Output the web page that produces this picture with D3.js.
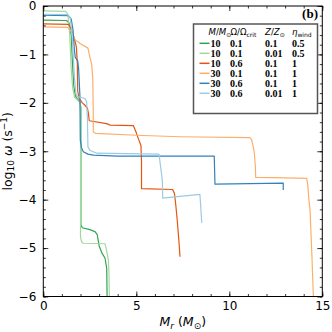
<!DOCTYPE html>
<html>
<head>
<meta charset="utf-8">
<script src="https://cdn.jsdelivr.net/npm/d3@7"></script>
<style>
  body { margin: 0; background: #fff; }
  svg { display: block; }
  .tick text { font-family: "DejaVu Sans", sans-serif; font-size: 12px; fill: #000; }
  .leg { font-family: "Liberation Serif", serif; font-weight: bold; font-size: 10px; }
  .hdr { font-family: "DejaVu Sans", sans-serif; font-size: 8.6px; }
</style>
</head>
<body>
<div class="chart"></div>
<script>
// Legend table
const masses = ["10", "10", "10", "30", "30", "30"];
const omegas = ["0.1", "0.1", "0.6", "0.1", "0.6", "0.6"];
const metals = ["0.1", "0.01", "0.1", "0.1", "0.1", "0.01"];
const etas = ["0.5", "0.5", "1", "1", "1", "1"];
const colors = ["#31a354", "#a1d99b", "#e6550d", "#fdae6b", "#3182bd", "#9ecae1"];

// Profiles: [M_r, log10 omega]
const m10o01z01 = [[0,-0.29],[1.25,-0.30],[1.4,-0.36],[1.5,-0.6],[1.57,-1.2],[1.64,-1.65],[1.72,-1.85],[1.85,-1.93],[1.97,-1.98],[2.02,-2.1],[2.02,-4.52],[2.1,-4.58],[2.5,-4.62],[2.78,-4.66],[2.9,-4.72],[3.0,-4.95],[3.15,-5.1],[3.32,-5.21],[3.41,-5.42],[3.43,-6.0]];
const m10o01z001 = [[0,-0.10],[1.2,-0.11],[1.32,-0.17],[1.42,-0.6],[1.5,-1.3],[1.58,-1.7],[1.68,-1.88],[1.85,-1.95],[1.98,-2.0],[2.0,-2.2],[2.0,-4.78],[2.06,-4.87],[2.15,-4.9],[3.32,-4.91],[3.4,-5.04],[3.5,-5.25],[3.53,-5.5],[3.55,-6.0]];
const m10o06z01 = [[0,-0.37],[1.35,-0.38],[1.48,-0.45],[1.58,-0.56],[1.7,-0.72],[1.78,-0.85],[1.83,-1.2],[1.85,-1.75],[1.92,-1.91],[2.1,-2.0],[2.24,-2.05],[2.37,-2.11],[2.42,-2.2],[2.47,-2.37],[3.4,-2.43],[3.6,-2.46],[4.84,-2.47],[5.0,-2.62],[5.12,-2.75],[5.25,-2.88],[5.28,-3.2],[5.28,-3.77],[6.95,-3.79],[7.05,-3.87],[7.12,-4.1],[7.2,-4.42],[7.3,-4.9],[7.35,-5.18]];
const m30o01z01 = [[0,-0.43],[1.3,-0.44],[1.45,-0.5],[1.6,-0.6],[1.72,-0.7],[2.0,-0.78],[2.4,-0.87],[2.5,-1.05],[2.6,-1.2],[2.66,-1.5],[2.68,-2.0],[2.69,-2.6],[2.8,-2.63],[5.0,-2.67],[7.35,-2.70],[11.1,-2.72],[11.2,-2.76],[11.33,-2.98],[11.4,-3.3],[11.42,-3.54],[13.0,-3.55],[14.16,-3.56],[14.22,-3.7],[14.28,-4.01],[14.34,-4.21],[14.43,-5.04],[14.52,-6.0]];
const m30o06z01 = [[0,-0.19],[1.35,-0.2],[1.5,-0.27],[1.6,-0.5],[1.67,-0.9],[1.72,-1.06],[1.85,-1.13],[1.9,-1.3],[1.97,-1.87],[1.98,-2.3],[1.99,-2.77],[2.05,-2.92],[2.15,-3.01],[2.4,-3.06],[2.69,-3.08],[4.0,-3.1],[9.19,-3.1],[9.23,-3.68],[12.9,-3.66],[12.9,-3.8]];
const m30o06z001 = [[0,-0.17],[1.3,-0.18],[1.45,-0.25],[1.55,-0.6],[1.62,-1.1],[1.68,-1.5],[1.75,-1.8],[1.82,-1.87],[2.24,-1.91],[2.33,-1.98],[2.37,-2.3],[2.4,-2.91],[2.5,-2.98],[2.87,-3.04],[6.22,-3.06],[6.4,-3.6],[6.42,-3.97],[8.42,-3.89],[8.52,-4.48]];
const profiles = [m10o01z01, m10o01z001, m10o06z01, m30o01z01, m30o06z01, m30o06z001];

const xTicks = [0, 5, 10, 15];
const yTicks = [0, -1, -2, -3, -4, -5, -6];

const W = 332, H = 332;
const margin = { top: 6, right: 9.7, bottom: 35.5, left: 43.3 };

const svg = d3.select(".chart").append("svg").attr("width", W).attr("height", H);

// SCALES
const x = d3.scaleLinear().domain([0, 15]).range([margin.left, W - margin.right]);
const y = d3.scaleLinear().domain([-6, 0]).range([H - margin.bottom, margin.top]);

// clip
svg.append("clipPath").attr("id", "clip").append("rect")
  .attr("x", margin.left).attr("y", margin.top)
  .attr("width", x(15) - x(0)).attr("height", y(-6) - y(0));

const line = d3.line().x((d) => x(d[0])).y((d) => y(d[1]));

svg.append("g").attr("clip-path", "url(#clip)")
  .selectAll("path")
  .data(profiles)
  .join("path")
  .attr("d", line)
  .attr("fill", "none")
  .attr("stroke", (d, i) => colors[i])
  .attr("stroke-width", 1.2)
  .attr("stroke-linejoin", "round");

// AXES
const minorX = d3.range(0, 16, 1);
const minorY = d3.range(-6, 0.01, 0.2);
const fmt = d3.format("d");

function axisGroup(axis, tx, ty) {
  const g = svg.append("g").attr("transform", `translate(${tx},${ty})`).call(axis);
  g.select(".domain").remove();
  g.selectAll(".tick line").attr("stroke", "#000").attr("stroke-width", 0.8);
  return g;
}

const yBot = y(-6), yTop = y(0), xLeft = x(0), xRight = x(15);
axisGroup(d3.axisBottom(x).tickValues(xTicks).tickFormat(fmt).tickSize(-5).tickPadding(5), 0, yBot);
axisGroup(d3.axisBottom(x).tickValues(minorX).tickFormat("").tickSize(-2.5), 0, yBot);
axisGroup(d3.axisTop(x).tickValues(xTicks).tickFormat("").tickSize(-5), 0, yTop);
axisGroup(d3.axisTop(x).tickValues(minorX).tickFormat("").tickSize(-2.5), 0, yTop);
axisGroup(d3.axisLeft(y).tickValues(yTicks).tickFormat(fmt).tickSize(-5).tickPadding(7), xLeft, 0);
axisGroup(d3.axisLeft(y).tickValues(minorY).tickFormat("").tickSize(-2.5), xLeft, 0);
axisGroup(d3.axisRight(y).tickValues(yTicks).tickFormat("").tickSize(-5), xRight, 0);
axisGroup(d3.axisRight(y).tickValues(minorY).tickFormat("").tickSize(-2.5), xRight, 0);

svg.append("rect")
  .attr("x", xLeft).attr("y", yTop)
  .attr("width", xRight - xLeft).attr("height", yBot - yTop)
  .attr("fill", "none").attr("stroke", "#000").attr("stroke-width", 1);

// Axis labels
const xl = svg.append("text")
  .attr("x", (xLeft + xRight) / 2).attr("y", 326)
  .attr("text-anchor", "middle")
  .attr("font-family", "DejaVu Sans, sans-serif").attr("font-size", 12.5);
xl.append("tspan").attr("font-style", "italic").text("M");
xl.append("tspan").attr("font-style", "italic").attr("font-size", 9).attr("dy", 2.5).text("r");
xl.append("tspan").attr("dy", -2.5).text(" (");
xl.append("tspan").attr("font-style", "italic").text("M");
xl.append("tspan").attr("font-size", 9).attr("dy", 2.5).text("⊙");
xl.append("tspan").attr("dy", -2.5).text(")");

const yl = svg.append("text")
  .attr("transform", `translate(11.5,${(yTop + yBot) / 2}) rotate(-90)`)
  .attr("text-anchor", "middle")
  .attr("font-family", "DejaVu Sans, sans-serif").attr("font-size", 12.5);
yl.append("tspan").text("log");
yl.append("tspan").attr("font-size", 9).attr("dy", 2.5).text("10");
yl.append("tspan").attr("dy", -2.5).text(" ");
yl.append("tspan").attr("font-style", "italic").text("ω");
yl.append("tspan").text(" (s");
yl.append("tspan").attr("font-size", 9).attr("dy", -5).text("−1");
yl.append("tspan").attr("dy", 5).text(")");

// Panel tag
svg.append("text")
  .attr("x", 318).attr("y", 18)
  .attr("text-anchor", "end")
  .attr("font-family", "Liberation Serif, serif").attr("font-weight", "bold").attr("font-size", 13)
  .text("(b)");

// LEGEND
const legend = svg.append("g");
legend.append("rect")
  .attr("x", 193.5).attr("y", 24).attr("width", 124).attr("height", 89.5)
  .attr("fill", "#fff").attr("stroke", "#555").attr("stroke-width", 1.5);

const colX = [210.5, 230, 265, 292];
const hdrY = 35;
const h1 = legend.append("text").attr("class", "hdr").attr("x", 208.5).attr("y", hdrY);
h1.append("tspan").attr("font-style", "italic").text("M");
h1.append("tspan").text("/");
h1.append("tspan").attr("font-style", "italic").text("M");
h1.append("tspan").attr("font-size", 6).attr("dy", 1.5).text("⊙");
const h2 = legend.append("text").attr("class", "hdr").attr("x", 230.5).attr("y", hdrY);
h2.append("tspan").text("Ω/Ω");
h2.append("tspan").attr("font-size", 6).attr("dy", 1.5).text("crit");
const h3 = legend.append("text").attr("class", "hdr").attr("x", 265).attr("y", hdrY);
h3.append("tspan").attr("font-style", "italic").text("Z");
h3.append("tspan").text("/");
h3.append("tspan").attr("font-style", "italic").text("Z");
h3.append("tspan").attr("font-size", 6).attr("dy", 1.5).text("⊙");
const h4 = legend.append("text").attr("class", "hdr").attr("x", 292).attr("y", hdrY);
h4.append("tspan").attr("font-style", "italic").text("η");
h4.append("tspan").attr("font-size", 6).attr("dy", 1.5).text("wind");

const rowY = d3.scaleLinear().domain([0, 5]).range([43.3, 93.3]);
const rows = legend.selectAll(".row").data(masses).join("g").attr("class", "row")
  .attr("transform", (d, i) => `translate(0,${rowY(i)})`);
rows.append("line")
  .attr("x1", 199.5).attr("x2", 209.5)
  .attr("stroke", (d, i) => colors[i]).attr("stroke-width", 1.5);
const cols = [masses, omegas, metals, etas];
cols.forEach((arr, c) => {
  rows.append("text").attr("class", "leg")
    .attr("x", colX[c]).attr("y", 3.5)
    .text((d, i) => arr[i]);
});
</script>
</body>
</html>
